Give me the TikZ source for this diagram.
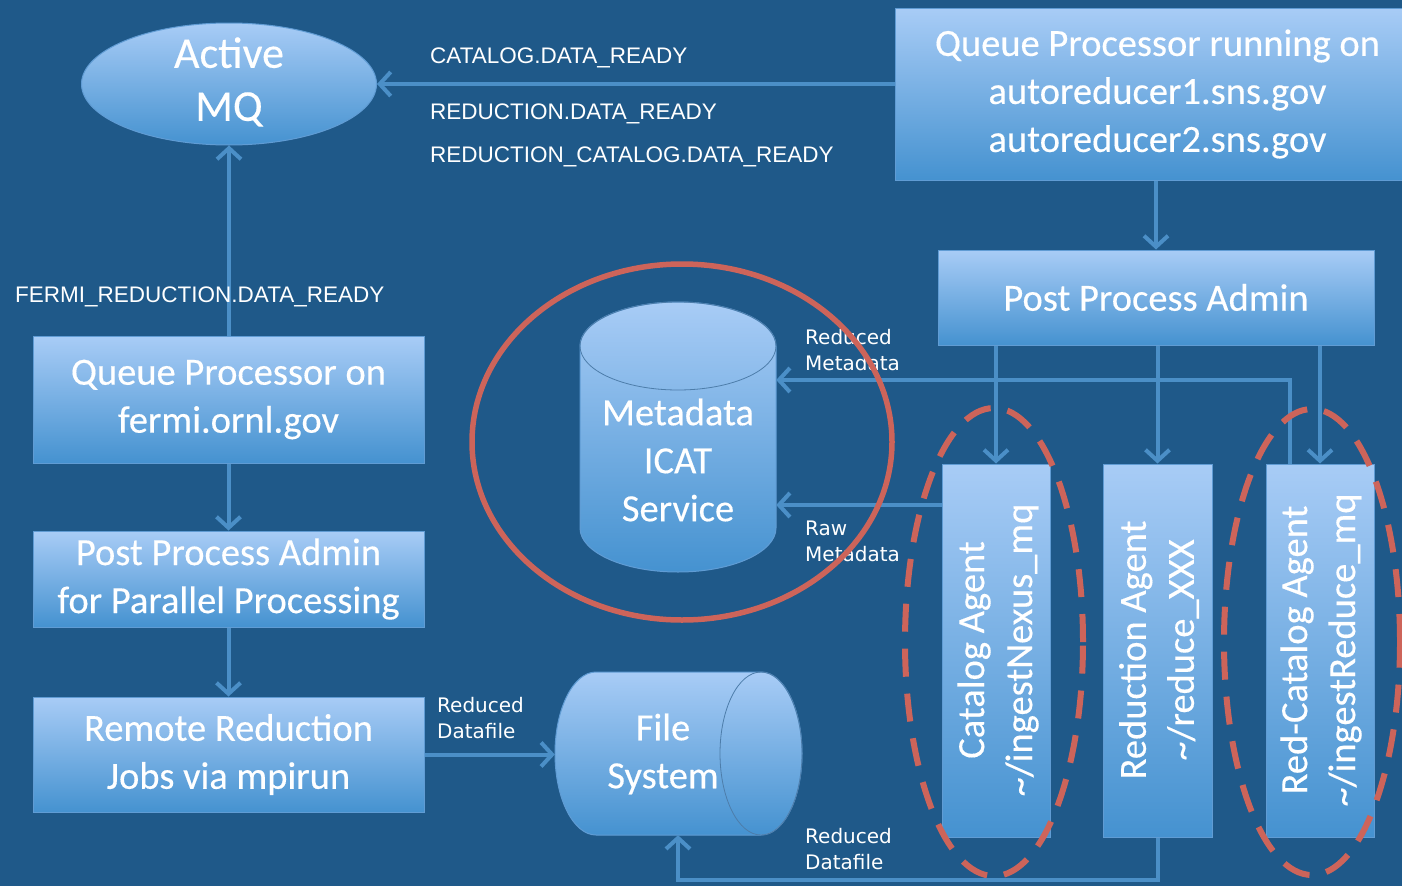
\documentclass[tikz,border=0pt]{standalone}
\usepackage{fontspec}
\setmainfont[FakeBold=0.3]{Carlito}
\newfontfamily\labfont{Liberation Sans}
\newfontfamily\smfont{DejaVu Sans}
\usetikzlibrary{arrows.meta,shapes.geometric}
\definecolor{bgblue}{RGB}{31,89,137}
\definecolor{boxtop}{RGB}{168,204,246}
\definecolor{boxbot}{RGB}{69,146,208}
\definecolor{boxedge}{RGB}{96,156,212}
\definecolor{conncol}{RGB}{75,143,199}
\definecolor{redmark}{RGB}{205,100,90}
\newcommand\bigtxt{\fontsize{38.5}{48}\selectfont}
\begin{document}
\begin{tikzpicture}[x=1pt,y=-1pt,
  box/.style={draw=boxedge, line width=1pt, top color=boxtop, bottom color=boxbot,
    inner sep=0pt, text=white, align=center, font=\bigtxt},
  shapebox/.style={draw=boxedge, line width=1pt, top color=boxtop, bottom color=boxbot},
  bigtext/.style={text=white, align=center, font=\bigtxt, inner sep=0pt},
  conn/.style={draw=conncol, line width=4pt, -{Straight Barb[length=11pt,width=24pt]}},
  caplabel/.style={font=\labfont\fontsize{22.5}{26}\selectfont, text=white, anchor=west, inner sep=0pt},
  smlabel/.style={font=\smfont\fontsize{20}{26}\selectfont, text=white, anchor=west, align=left, inner sep=0pt},
  ring/.style={draw=redmark, line width=5.5pt},
  dashring/.style={draw=redmark, line width=6pt, dash pattern=on 28pt off 17pt},
  hole/.style={inner sep=0pt}
]
\useasboundingbox (0,0) rectangle (1402,886);
\fill[bgblue] (0,0) rectangle (1402,886);

% ---- shape nodes (boxes)
\node[ellipse, shapebox, minimum width=295pt, minimum height=122pt, inner sep=0pt] (mq) at (229,84) {};
\node[bigtext, font=\fontsize{44}{53}\selectfont] (mqtext) at (229,82) {Active\\MQ};

\node[box, minimum width=525pt, minimum height=172pt] (tr) at (1157.5,94)
  {Queue Processor running on\\autoreducer1.sns.gov\\autoreducer2.sns.gov};
\node[box, minimum width=436pt, minimum height=95pt] (ppa) at (1156,297.5) {Post Process Admin};

\node[box, minimum width=391pt, minimum height=127pt] (qp) at (228.5,399.5) {Queue Processor on\\fermi.ornl.gov};
\node[box, minimum width=391pt, minimum height=96pt] (ppap) at (228.5,579) {Post Process Admin\\for Parallel Processing};
\node[box, minimum width=391pt, minimum height=115pt] (rr) at (228.5,754.5) {Remote Reduction\\Jobs via mpirun};

\node[box, minimum width=108pt, minimum height=373pt] (cat) at (996,650.5) {};
\node[box, minimum width=109pt, minimum height=373pt] (red) at (1157.5,650.5) {};
\node[box, minimum width=108pt, minimum height=373pt] (rcat) at (1320,650.5) {};
\node[bigtext, rotate=90] (cattext) at (998,650) {Catalog Agent\\\textasciitilde/ingestNexus\_mq};
\node[bigtext, rotate=90] (redtext) at (1159,650) {Reduction Agent\\\textasciitilde/reduce\_XXX};
\node[bigtext, rotate=90] (rcattext) at (1321,650) {Red-Catalog Agent\\\textasciitilde/ingestReduce\_mq};

% ICAT cylinder
\node[hole, minimum width=196pt, minimum height=270pt] (icat) at (678,437) {};
\path[shapebox] (580,346) -- (580,528) arc[start angle=180, end angle=360, x radius=98pt, y radius=44pt]
  -- (776,346) arc[start angle=0, end angle=180, x radius=98pt, y radius=44pt] -- cycle;
\draw[draw=boxedge!80!black, line width=0.8pt] (678,346) ellipse[x radius=98pt, y radius=44pt];
\node[bigtext] (icattext) at (678,460) {Metadata\\ICAT\\Service};

% File system cylinder
\node[hole, minimum width=247pt, minimum height=163pt] (fs) at (678.5,753.5) {};
\path[shapebox] (596,672) -- (761,672) arc[start angle=90, end angle=-90, x radius=41pt, y radius=81.5pt]
  -- (596,835) arc[start angle=270, end angle=90, x radius=41pt, y radius=81.5pt] -- cycle;
\draw[draw=boxedge!80!black, line width=0.8pt] (761,753.5) ellipse[x radius=41pt, y radius=81.5pt];
\node[bigtext] (fstext) at (663,754) {File\\System};

% ---- connectors
\coordinate (rmy) at (0,380);
\coordinate (rawy) at (0,505);
\coordinate (fsb) at (678,880);
\draw[conn] (tr.west |- mq.east) -- (mq.east);
\draw[conn] (ppa.north |- tr.south) -- (ppa.north);
\draw[conn] (cat.north |- ppa.south) -- (cat.north);
\draw[conn] (red.north |- ppa.south) -- (red.north);
\draw[conn] (rcat.north |- ppa.south) -- (rcat.north);
\draw[conn] ([xshift=-30pt]rcat.north) |- (icat.east |- rmy);
\draw[conn] (cat.west |- rawy) -- (icat.east |- rawy);
\draw[conn] (red.south) |- (fsb) -- (fs.south -| fsb);
\draw[conn] (mq.south |- qp.north) -- (mq.south);
\draw[conn] (qp.south) -- (ppap.north);
\draw[conn] (ppap.south) -- (rr.north);
\draw[conn] (rr.east) -- (rr.east -| fs.west);

% ---- labels
\node[caplabel] (l1) at (430,58) {CATALOG.DATA\_READY};
\node[caplabel] (l2) at (430,114) {REDUCTION.DATA\_READY};
\node[caplabel] (l3) at (430,157) {REDUCTION\_CATALOG.DATA\_READY};
\node[caplabel] (l4) at (15,297) {FERMI\_REDUCTION.DATA\_READY};
\node[smlabel] (l5) at (805,350) {Reduced\\Metadata};
\node[smlabel] (l6) at (805,541) {Raw\\Metadata};
\node[smlabel] (l7) at (437,718) {Reduced\\Datafile};
\node[smlabel] (l8) at (805,849) {Reduced\\Datafile};

% ---- red marks
\draw[ring] (682,442) ellipse[x radius=210pt, y radius=178pt];
\draw[dashring] (994,642) ellipse[x radius=89pt, y radius=234pt];
\draw[dashring] (1312,642) ellipse[x radius=88pt, y radius=233pt];
\end{tikzpicture}
\end{document}
